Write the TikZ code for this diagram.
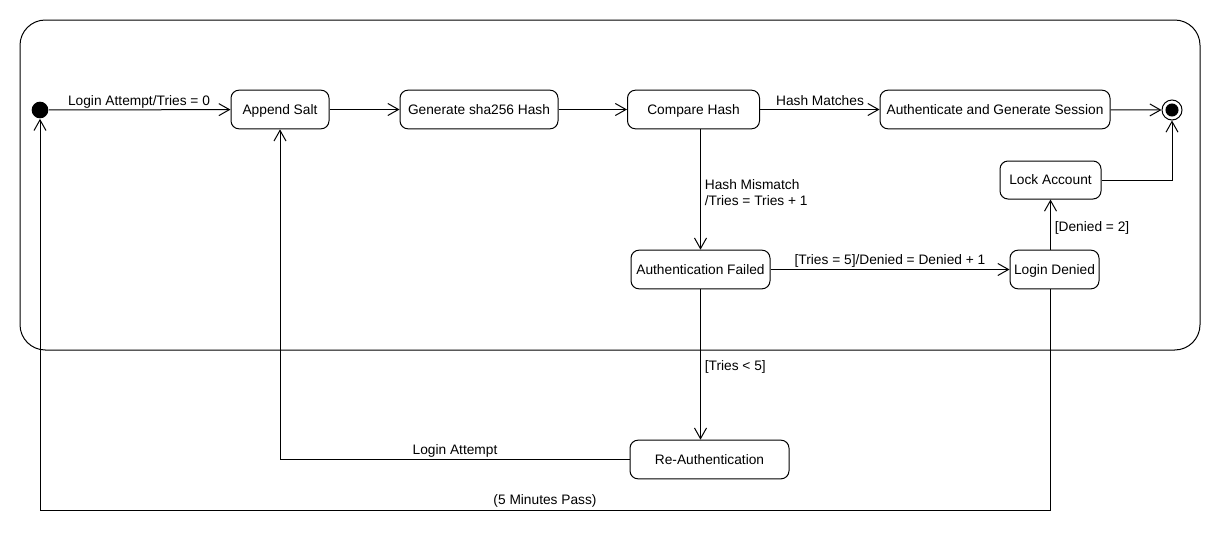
\documentclass[tikz,border=0pt]{standalone}
\usepackage{fontspec}
\setmainfont{Liberation Sans}
\usetikzlibrary{arrows.meta}
\begin{document}
\begin{tikzpicture}[x=0.75pt,y=-0.75pt,
  font=\fontsize{10.3}{12}\selectfont,
  line width=0.75pt,
  state/.style={draw,rounded corners=6pt,minimum height=29pt,inner sep=2pt,
    text height=7.4pt,text depth=0.6pt},
  trans/.style={-{Straight Barb[length=8pt,width=9pt,line width=0.75pt]}},
  lbl/.style={inner sep=1pt}]
\useasboundingbox (0,0) rectangle (1220,550);
% composite state frame
\draw[rounded corners=19pt] (20,20) rectangle (1200,350);

% pseudo states
\node[circle,fill=black,minimum size=12.5pt,inner sep=0pt] (init) at (40,110) {};
\node[circle,draw,minimum size=15pt,inner sep=0pt] (fin) at (1172,110) {};
\fill (fin.center) circle (4.9pt);

% states
\node[state,minimum width=73.5pt] (salt) at (280,109.5) {Append Salt};
\node[state,minimum width=118.5pt] (hash) at (479,109.5) {Generate sha256 Hash};
\node[state,minimum width=99pt] (cmp) at (693.5,109.5) {Compare Hash};
\node[state,minimum width=172.5pt] (auth) at (995,109.5) {Authenticate and Generate Session};
\node[state,minimum width=75.75pt,minimum height=28.5pt] (lock) at (1050.5,180) {Lock Account};
\node[state,minimum width=66.75pt] (denied) at (1054.5,269.5) {Login Denied};
\node[state,minimum width=104.25pt] (af) at (700.5,269.5) {Authentication Failed};
\node[state,minimum width=119.25pt] (reauth) at (709.5,459.5) {Re-Authentication};

% transitions
\draw[trans] (init) -- (salt);
\node[lbl] (l1) at (139,102) {Login Attempt/Tries = 0};
\draw[trans] (salt) -- (hash);
\draw[trans] (hash) -- (cmp);
\draw[trans] (cmp) -- (auth);
\node[lbl] (l2) at (820,101) {Hash Matches};
\draw[trans] (auth) -- (fin);
\draw[trans] (lock.east) -- (lock.east -| fin.south) -- (fin.south);

\draw[trans] (cmp.south -| af.north) -- (af.north);
\node[lbl,anchor=west,align=left] (l3) at (703,193) {Hash Mismatch\\/Tries = Tries + 1};

\draw[trans] (af) -- (denied);
\node[lbl] (l4) at (890,261) {[Tries = 5]/Denied = Denied + 1};

\draw[trans] (denied.north -| lock.south) -- (lock.south);
\node[lbl,anchor=west] (l5) at (1053,228) {[Denied = 2]};

\draw[trans] (af.south) -- (af.south |- reauth.north);
\node[lbl,anchor=west] (l6) at (703,367) {[Tries < 5]};

\draw[trans] (reauth.west) -- (reauth.west -| salt.south) -- (salt.south);
\node[lbl] (l7) at (455,451) {Login Attempt};

\coordinate (bot) at (40,510);
\draw[trans] (denied.south -| 1050,0) -- (1050,510) -- (bot) -- (init.south);
\node[lbl] (l8) at (545,501) {(5 Minutes Pass)};
\end{tikzpicture}
\end{document}
